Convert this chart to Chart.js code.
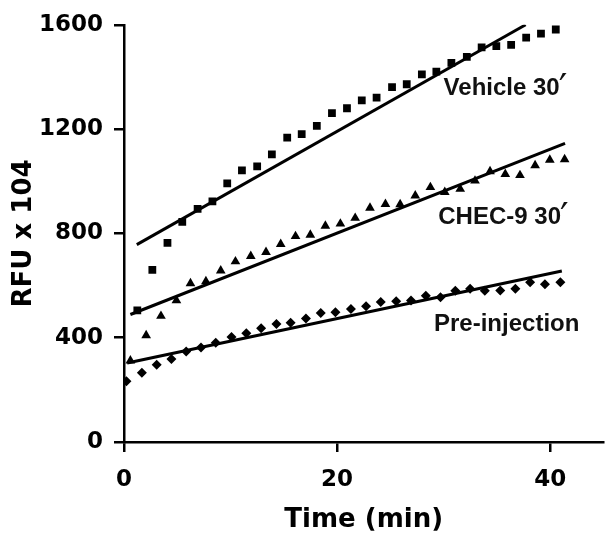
<!DOCTYPE html>
<html>
<head>
<meta charset="utf-8">
<script src="https://cdn.jsdelivr.net/npm/chart.js@4.4.1/dist/chart.umd.min.js"></script>
<style>
  html,body{margin:0;padding:0;background:#fff;}
  #wrap{width:609px;height:533px;position:relative;}
</style>
</head>
<body>
<div id="wrap"><canvas id="c" width="609" height="533"></canvas></div>
<script>
// values (time in min, RFU x 10^4)
const vehTime = [1.25,2.66,4.08,5.47,6.91,8.30,9.69,11.07,12.50,13.88,15.32,16.68,18.10,19.52,20.93,22.32,23.71,25.16,26.54,27.96,29.32,30.73,32.18,33.57,34.95,36.34,37.75,39.14,40.53];
const vehRFU  = [505,660,764,844,894,923,992,1042,1057,1103,1167,1181,1212,1261,1280,1310,1321,1361,1372,1410,1420,1454,1477,1513,1518,1523,1551,1566,1582];

const checTime = [0.60,2.08,3.47,4.92,6.24,7.69,9.08,10.46,11.90,13.33,14.71,16.10,17.49,18.90,20.31,21.70,23.09,24.54,25.92,27.34,28.76,30.11,31.56,32.95,34.36,35.79,37.17,38.59,39.97,41.36];
const checRFU  = [312,409,483,543,608,616,657,692,713,728,759,789,794,829,837,859,898,912,911,945,977,958,970,1002,1038,1027,1023,1061,1082,1084];

const preTime = [0.23,1.68,3.07,4.45,5.84,7.23,8.61,10.09,11.48,12.87,14.31,15.64,17.08,18.47,19.85,21.30,22.72,24.10,25.55,26.94,28.33,29.71,31.10,32.49,33.87,35.32,36.74,38.12,39.51,40.96];
const preRFU  = [233,266,296,318,347,362,381,403,417,436,453,457,474,495,498,510,521,537,540,543,561,555,580,588,580,581,588,613,605,613];

// linear fits (end points)
const vehFitTime = [1.2, 37.7];   const vehFitRFU = [757, 1600];
const checFitTime = [0.6, 41.4];  const checFitRFU = [489, 1145];
const preFitTime = [0.3, 41.1];   const preFitRFU = [303, 656];

const xTicks = [0, 20, 40];
const yTicks = [0, 400, 800, 1200, 1600];

// curve labels: text, anchor time, anchor RFU
const labels = [
  {text:'Vehicle 30', t:30.0, v:1357},
  {text:'CHEC-9 30', t:29.5, v:863},
  {text:'Pre-injection', t:29.1, v:451, noPrime:true}
];

function pts(xs, ys){ return xs.map(function(x,i){ return {x:x, y:ys[i]}; }); }

const BLACK = '#000';
const AX_FONT = '"DejaVu Sans", Verdana, sans-serif';
function markers(label, xs, ys, style, r){
  return {label:label, data:pts(xs,ys), showLine:false, pointStyle:style, pointRadius:r,
    pointBackgroundColor:BLACK, pointBorderColor:BLACK, pointBorderWidth:0, borderColor:BLACK};
}
function fit(label, xs, ys){
  return {label:label, data:pts(xs,ys), showLine:true, pointRadius:0, borderColor:BLACK, borderWidth:3, fill:false};
}

const curveLabels = {
  id:'curveLabels',
  afterDatasetsDraw(chart){
    const ctx = chart.ctx, xs = chart.scales.x, ys = chart.scales.y;
    ctx.save();
    ctx.fillStyle = '#111';
    labels.forEach(function(l){
      const px = xs.getPixelForValue(l.t), py = ys.getPixelForValue(l.v);
      ctx.font = 'bold 24px "Liberation Sans", Arial, sans-serif';
      ctx.textAlign = 'left'; ctx.textBaseline = 'middle';
      ctx.fillText(l.text, px, py);
      if(!l.noPrime){
        const w = ctx.measureText(l.text).width;
        ctx.font = '38px "DejaVu Sans", sans-serif';
        ctx.textBaseline = 'top';
        ctx.fillText('\u2032', px + w - 1, py - 17);
      }
    });
    ctx.restore();
  }
};

new Chart(document.getElementById('c'), {
  type:'scatter',
  data:{datasets:[
    markers('Vehicle 30', vehTime, vehRFU, 'rect', 5.5),
    markers('CHEC-9 30', checTime, checRFU, 'triangle', 5.6),
    markers('Pre-injection', preTime, preRFU, 'rectRot', 5),
    fit('Vehicle fit', vehFitTime, vehFitRFU),
    fit('CHEC fit', checFitTime, checFitRFU),
    fit('Pre fit', preFitTime, preFitRFU)
  ]},
  options:{
    responsive:false, animation:false, devicePixelRatio:1,
    layout:{padding:{top:19, right:0, left:0, bottom:0}},
    plugins:{legend:{display:false}, tooltip:{enabled:false}},
    scales:{
      x:{
        type:'linear', min:0, max:45,
        afterBuildTicks(s){ s.ticks = xTicks.map(function(v){return {value:v};}); },
        afterFit(s){ s.height = 91; },
        border:{display:true, color:BLACK, width:2.5},
        grid:{display:true, drawOnChartArea:false, drawTicks:true, tickLength:10, color:BLACK, lineWidth:2.5},
        ticks:{color:BLACK, padding:14, maxRotation:0, callback:function(v){ return String(v); },
          font:{family:AX_FONT, weight:'bold', size:23}},
        title:{display:true, text:'Time (min)', color:BLACK, padding:{top:0,bottom:0},
          font:{family:AX_FONT, weight:'bold', size:26, lineHeight:1}}
      },
      y:{
        type:'linear', min:0, max:1600,
        afterBuildTicks(s){ s.ticks = yTicks.map(function(v){return {value:v};}); },
        afterFit(s){ s.width = 124; },
        border:{display:true, color:BLACK, width:2.5},
        grid:{display:true, drawOnChartArea:false, drawTicks:true, tickLength:10, color:BLACK, lineWidth:2.5},
        ticks:{color:BLACK, padding:11, callback:function(v){ return String(v); },
          font:{family:AX_FONT, weight:'bold', size:23}},
        title:{display:true, text:'RFU x 104', color:BLACK, padding:{top:11,bottom:0},
          font:{family:AX_FONT, weight:'bold', size:26, lineHeight:1}}
      }
    }
  },
  plugins:[curveLabels]
});
</script>
</body>
</html>
